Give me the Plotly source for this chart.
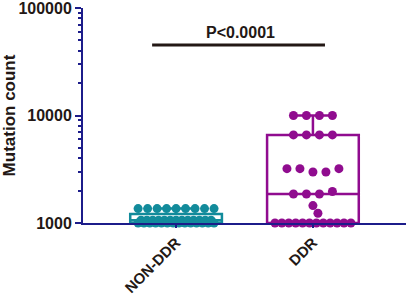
import math
import plotly.graph_objects as go

categories = ["NON-DDR", "DDR"]

non_ddr_counts = [
    1000, 1060, 1000, 1060, 1000, 1060, 1000, 1060, 1000,
    1060, 1000, 1060, 1000, 1060, 1000, 1060, 1000, 1060,
    1000, 1060, 1000, 1060, 1000, 1060, 1000, 1060, 1000,
    1360, 1360, 1360, 1360, 1360, 1360, 1360, 1360, 1360,
]
ddr_counts = [
    10000, 10000, 10000, 10000,
    6600, 6600, 6600, 6600,
    3200, 3200, 2980, 2980, 3200,
    1860, 1860, 1860, 1960,
    1450,
    1230,
    1000, 1000, 1000, 1000, 1000, 1000, 1000, 1000, 1000, 1000, 1000, 1000,
]
y_ticks = [1000, 10000, 100000]
y_tick_labels = ["1000", "10000", "100000"]
p_label = "P<0.0001"

colors = ["#128b9b", "#900c8f"]
navy = "#1c1c8a"
ink = "#231815"
font_family = "Arial, Liberation Sans, sans-serif"

# pixel scale of the plot area, used for the beeswarm layout
PX_PER_DECADE = 107.5
PX_PER_CAT = 137.0


def swarm_offsets(values, dot=9.0, max_step=13.0, max_span=76.0):
    ypx = [math.log10(v) * PX_PER_DECADE for v in values]
    order = sorted(range(len(values)), key=lambda i: ypx[i])
    rows, cur = [], [order[0]]
    for i in order[1:]:
        if abs(ypx[i] - ypx[cur[0]]) < 5:
            cur.append(i)
        else:
            rows.append(cur)
            cur = [i]
    rows.append(cur)
    offs = [0.0] * len(values)
    placed = []
    for row in reversed(rows):
        row = sorted(row)  # keep listed order left to right
        k = len(row)
        step = min(max_step, max_span / (k - 1)) if k > 1 else 0
        for j, i in enumerate(row):
            x = (j - (k - 1) / 2) * step
            if k == 1:
                while any(math.hypot(x - px, ypx[i] - py) < dot for px, py in placed):
                    x += 1
            offs[i] = x
            placed.append((x, ypx[i]))
    return [o / PX_PER_CAT for o in offs]


fig = go.Figure()
for pos, (vals, col) in enumerate(zip([non_ddr_counts, ddr_counts], colors)):
    fig.add_trace(go.Box(
        x=[pos] * len(vals), y=vals, boxpoints=False, quartilemethod="exclusive",
        width=0.67, whiskerwidth=0.45, line=dict(color=col, width=2.5),
        fillcolor="rgba(255,255,255,0)", showlegend=False, hoverinfo="skip",
    ))
    offs = swarm_offsets(vals)
    fig.add_trace(go.Scatter(
        x=[pos + o for o in offs], y=vals, mode="markers",
        marker=dict(color=col, size=9, line=dict(width=0)),
        showlegend=False, cliponaxis=False,
    ))

fig.add_shape(type="line", xref="x", yref="paper", x0=-0.175, x1=1.088,
              y0=0.828, y1=0.828, line=dict(color=ink, width=3))
fig.add_annotation(x=0.47, xref="x", y=0.888, yref="paper", text=p_label,
                   showarrow=False, yanchor="middle",
                   font=dict(size=16, family=font_family, color=ink, weight="bold"))

fig.update_layout(
    width=408, height=299,
    margin=dict(l=83, r=2, t=8, b=76),
    paper_bgcolor="white", plot_bgcolor="white",
    font=dict(family=font_family, color=ink),
)
fig.update_xaxes(
    range=[-0.68, 1.68], tickvals=[0, 1], ticktext=categories, tickangle=-45,
    showline=True, linecolor=navy, linewidth=2, ticks="outside", ticklen=3,
    tickcolor=navy, tickwidth=1.5, showgrid=False, zeroline=False, automargin=False,
    tickfont=dict(size=15, family=font_family, color=ink, weight="bold"),
)
minor_ticks = [m * 10 ** e for e in (3, 4) for m in range(2, 10)]
fig.update_yaxes(
    type="log", range=[2.9995, 5.0005], tickvals=y_ticks, ticktext=y_tick_labels,
    ticklabeloverflow="allow",
    showline=True, linecolor=navy, linewidth=2, ticks="outside", ticklen=6,
    tickcolor=navy, tickwidth=2, showgrid=False, zeroline=False, automargin=False,
    minor=dict(tickvals=minor_ticks, ticks="outside", ticklen=3, tickcolor=navy,
               tickwidth=1.5, showgrid=False),
    tickfont=dict(size=16, family=font_family, color=ink, weight="bold"),
    title=dict(text="Mutation count", standoff=6,
               font=dict(size=17, family=font_family, color=ink, weight="bold")),
)

fig.write_html("out.html", config={"displayModeBar": False},
               post_script="document.body.style.margin='0';")
